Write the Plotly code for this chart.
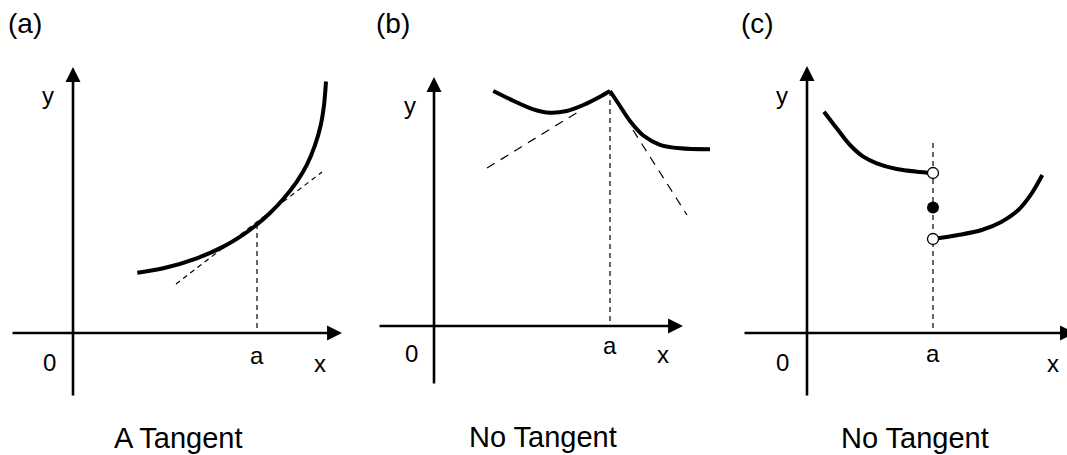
import plotly.graph_objects as go

W, H = 1067, 455
FONT = "Liberation Sans, Arial, Helvetica, sans-serif"

# ---------------- data (math units, origin at the axes crossing) ----------------
letters = ["(a)", "(b)", "(c)"]
titles = ["A Tangent", "No Tangent", "No Tangent"]

# Panel (a): smooth curve with a tangent at x = a
a_curve_x = [0.643, 0.903, 1.237, 1.503, 1.703, 1.837, 1.970, 2.103, 2.237, 2.337, 2.420, 2.477, 2.510, 2.530]
a_curve_y = [0.603, 0.647, 0.747, 0.864, 0.984, 1.083, 1.200, 1.340, 1.512, 1.678, 1.878, 2.078, 2.278, 2.515]
a_x, a_y = 1.84, 1.09
a_tan_x = [1.03, 2.49]
a_tan_y = [0.49, 1.61]

# Panel (b): corner at x = a
b_left_x = [0.593, 0.793, 0.993, 1.160, 1.327, 1.493, 1.660, 1.760]
b_left_y = [2.350, 2.253, 2.167, 2.133, 2.150, 2.210, 2.293, 2.350]
b_right_x = [1.760, 1.860, 1.960, 2.093, 2.260, 2.460, 2.760]
b_right_y = [2.350, 2.200, 2.050, 1.905, 1.812, 1.777, 1.767]
b_x, b_y = 1.76, 2.35
b_tanL_x = [0.53, 1.44]
b_tanL_y = [1.58, 2.14]
b_tanR_x = [1.99, 2.53]
b_tanR_y = [1.96, 1.11]

# Panel (c): jump discontinuity at x = a
c_up_x = [0.170, 0.297, 0.430, 0.563, 0.697, 0.897, 1.097, 1.260]
c_up_y = [2.213, 2.047, 1.880, 1.763, 1.697, 1.640, 1.613, 1.600]
c_lo_x = [1.260, 1.513, 1.747, 1.947, 2.113, 2.247, 2.353]
c_lo_y = [0.940, 0.980, 1.030, 1.113, 1.230, 1.397, 1.580]
c_x = 1.26
c_open_y = [1.60, 0.94]
c_fill_y = [1.255]
c_vert_top = 1.90

# axis extents per panel: (x tail, x tip, y tail, y tip)
axis_ext = [(-0.62, 2.69, -0.64, 2.66),
            (-0.56, 2.49, -0.59, 2.49),
            (-0.64, 2.68, -0.64, 2.67)]

# ---------------- layout geometry ----------------
SC = 100.0  # px per unit
panels = [dict(px0=0, px1=360, ox=73, oy=333),
          dict(px0=360, px1=720, ox=434, oy=326),
          dict(px0=720, px1=1067, ox=807, oy=333)]

fig = go.Figure()
layout = dict(width=W, height=H, margin=dict(l=0, r=0, t=0, b=0),
              paper_bgcolor="white", plot_bgcolor="white", showlegend=False)
for i, p in enumerate(panels):
    sx = "" if i == 0 else str(i + 1)
    layout["xaxis" + sx] = dict(domain=[p["px0"] / W, p["px1"] / W],
                                range=[(p["px0"] - p["ox"]) / SC, (p["px1"] - p["ox"]) / SC],
                                visible=False, anchor="y" + sx, fixedrange=True)
    layout["yaxis" + sx] = dict(domain=[0, 1],
                                range=[(p["oy"] - H) / SC, p["oy"] / SC],
                                visible=False, anchor="x" + sx, fixedrange=True)
fig.update_layout(**layout)

def ref(i):
    s = "" if i == 0 else str(i + 1)
    return "x" + s, "y" + s

def line(i, xs, ys, width=4, dash=None, spline=True):
    xr, yr = ref(i)
    fig.add_trace(go.Scatter(x=xs, y=ys, mode="lines", xaxis=xr, yaxis=yr,
                             line=dict(color="black", width=width, dash=dash,
                                       shape="spline" if spline else "linear",
                                       smoothing=0.9),
                             hoverinfo="skip"))

# panel (a)
line(0, a_tan_x, a_tan_y, width=1.2, dash="5px,4px", spline=False)
line(0, [a_x, a_x], [a_y, 0], width=1.2, dash="5px,4px", spline=False)
line(0, a_curve_x, a_curve_y, width=4)

# panel (b)
line(1, b_tanL_x, b_tanL_y, width=1.2, dash="9px,7px", spline=False)
line(1, b_tanR_x, b_tanR_y, width=1.2, dash="9px,7px", spline=False)
line(1, [b_x, b_x], [b_y, 0], width=1.2, dash="5px,4px", spline=False)
line(1, b_left_x, b_left_y, width=4)
line(1, b_right_x, b_right_y, width=4)

# panel (c)
line(2, [c_x, c_x], [c_vert_top, 0], width=1.2, dash="5px,4px", spline=False)
line(2, c_up_x, c_up_y, width=4)
line(2, c_lo_x, c_lo_y, width=4)
xr, yr = ref(2)
fig.add_trace(go.Scatter(x=[c_x] * len(c_open_y), y=c_open_y, mode="markers", xaxis=xr, yaxis=yr,
                         marker=dict(size=11, color="white", line=dict(color="black", width=1.3)),
                         hoverinfo="skip"))
fig.add_trace(go.Scatter(x=[c_x] * len(c_fill_y), y=c_fill_y, mode="markers", xaxis=xr, yaxis=yr,
                         marker=dict(size=12, color="black"), hoverinfo="skip"))

# axes with arrows + labels
annotations = []
point_a_x = [a_x, b_x, c_x]
label_pos = [
    dict(y=(-0.25, 2.38), zero=(-0.24, -0.29), a=-0.22, x=(2.47, -0.30), t=(1.05, -1.05), l=(-0.48, 3.10)),
    dict(y=(-0.24, 2.21), zero=(-0.23, -0.27), a=-0.19, x=(2.29, -0.28), t=(1.09, -1.11), l=(-0.41, 3.03)),
    dict(y=(-0.25, 2.38), zero=(-0.25, -0.29), a=-0.20, x=(2.46, -0.30), t=(1.08, -1.05), l=(-0.50, 3.10)),
]
for i in range(3):
    xr, yr = ref(i)
    xt0, xt1, yt0, yt1 = axis_ext[i]
    common = dict(xref=xr, yref=yr, axref=xr, ayref=yr, text="", showarrow=True,
                  arrowhead=2, arrowsize=1.15, arrowwidth=2.6, arrowcolor="black",
                  standoff=0, startstandoff=0)
    annotations.append(dict(x=xt1, y=0, ax=xt0, ay=0, **common))
    annotations.append(dict(x=0, y=yt1, ax=0, ay=yt0, **common))
    lp = label_pos[i]
    def txt(pos, s, size=24):
        return dict(xref=xr, yref=yr, x=pos[0], y=pos[1], text=s, showarrow=False,
                    font=dict(family=FONT, size=size, color="black"),
                    xanchor="center", yanchor="middle")
    annotations.append(txt(lp["y"], "y"))
    annotations.append(txt(lp["zero"], "0"))
    annotations.append(txt((point_a_x[i], lp["a"]), "a"))
    annotations.append(txt(lp["x"], "x"))
    annotations.append(txt(lp["t"], titles[i], 29))
    annotations.append(txt(lp["l"], letters[i], 28))
fig.update_layout(annotations=annotations)

fig.write_html("out.html", config={"staticPlot": True},
               post_script="document.body.style.margin='0';")
